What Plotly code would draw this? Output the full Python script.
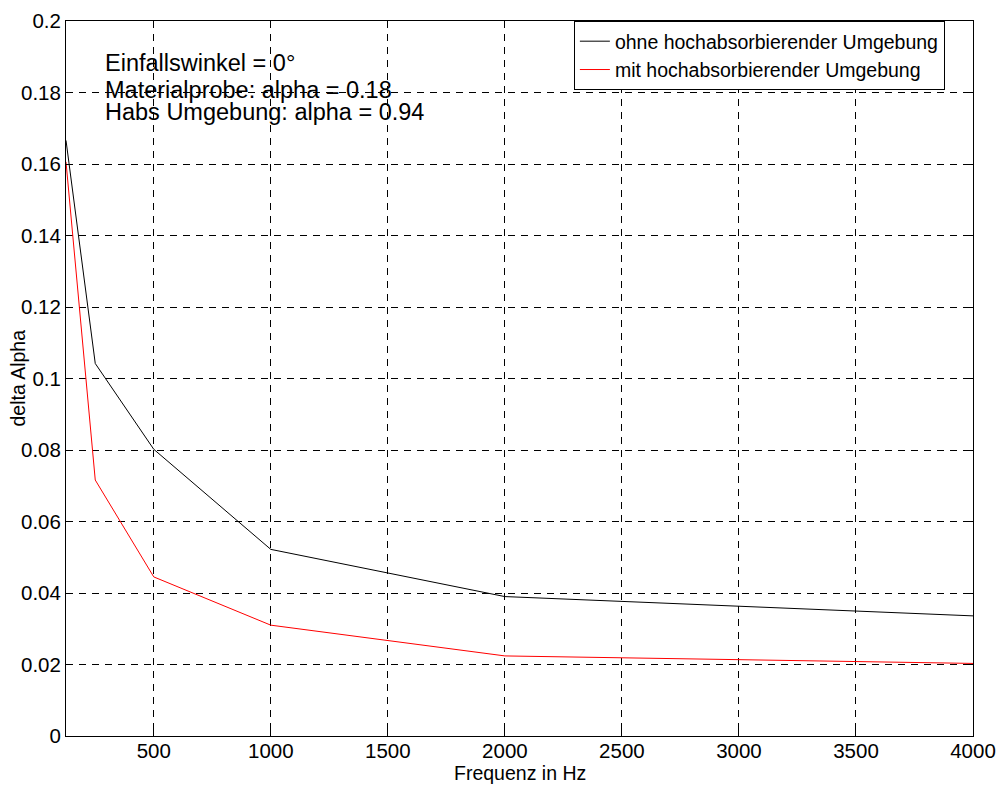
import plotly.graph_objects as go

freq = [125, 250, 500, 1000, 2000, 4000]
ohne = [0.1666, 0.1042, 0.0802, 0.0522, 0.0390, 0.0336]
mit = [0.1606, 0.0716, 0.0445, 0.0310, 0.0224, 0.0203]

xticks = [500, 1000, 1500, 2000, 2500, 3000, 3500, 4000]
yticks = [0, 0.02, 0.04, 0.06, 0.08, 0.1, 0.12, 0.14, 0.16, 0.18, 0.2]
ytick_labels = ["0", "0.02", "0.04", "0.06", "0.08", "0.1", "0.12", "0.14", "0.16", "0.18", "0.2"]

name_ohne = "ohne hochabsorbierender Umgebung"
name_mit = "mit hochabsorbierender Umgebung"
notes = ["Einfallswinkel = 0°", "Materialprobe: alpha = 0.18", "Habs Umgebung: alpha = 0.94"]
x_title = "Frequenz in Hz"
y_title = "delta Alpha"

FONT = "Liberation Sans, Arial, sans-serif"

fig = go.Figure()
fig.add_trace(go.Scatter(x=freq, y=ohne, mode="lines", name=name_ohne,
                         line=dict(color="black", width=1)))
fig.add_trace(go.Scatter(x=freq, y=mit, mode="lines", name=name_mit,
                         line=dict(color="red", width=1)))

axis_common = dict(
    showline=True, linecolor="black", linewidth=1, mirror="ticks",
    ticks="inside", ticklen=6, tickcolor="black",
    showgrid=True, gridcolor="black", gridwidth=1, griddash="7px,6px",
    zeroline=False, automargin=False,
    tickfont=dict(family=FONT, size=20.5, color="black"),
)

fig.update_xaxes(range=[125, 4000], tickvals=xticks,
                 ticktext=[str(v) for v in xticks], ticklabelstandoff=-4,
                 **axis_common)
fig.update_yaxes(range=[0, 0.2], tickvals=yticks, ticktext=ytick_labels,
                 **axis_common)

# axis titles
fig.add_annotation(x=0.5, y=0, xref="paper", yref="paper", text=x_title,
                   showarrow=False, xanchor="center", yanchor="middle", yshift=-37,
                   font=dict(family=FONT, size=19.5, color="black"))
fig.add_annotation(x=0, y=0.5, xref="paper", yref="paper", text=y_title,
                   showarrow=False, xanchor="center", yanchor="middle", xshift=-49,
                   textangle=-90,
                   font=dict(family=FONT, size=19.5, color="black"))

note_y = [0.1882, 0.1808, 0.1745]
for txt, yv in zip(notes, note_y):
    fig.add_annotation(x=282, y=yv, xref="x", yref="y", text=txt,
                       showarrow=False, xanchor="left", yanchor="middle",
                       font=dict(family=FONT, size=23.5, color="black"))

fig.update_layout(
    width=998, height=787,
    margin=dict(l=66, r=25, t=21, b=51),
    paper_bgcolor="white", plot_bgcolor="white",
    font=dict(family=FONT, color="black"),
    legend=dict(x=0.969, y=1, xanchor="right", yanchor="top",
                bgcolor="white", bordercolor="black", borderwidth=1,
                font=dict(family=FONT, size=19.5, color="black"),
                tracegroupgap=0, itemwidth=30),
    showlegend=True,
)

fig.write_html("out.html", config={"displayModeBar": False},
               post_script="document.body.style.margin='0';document.body.style.overflow='hidden';")
